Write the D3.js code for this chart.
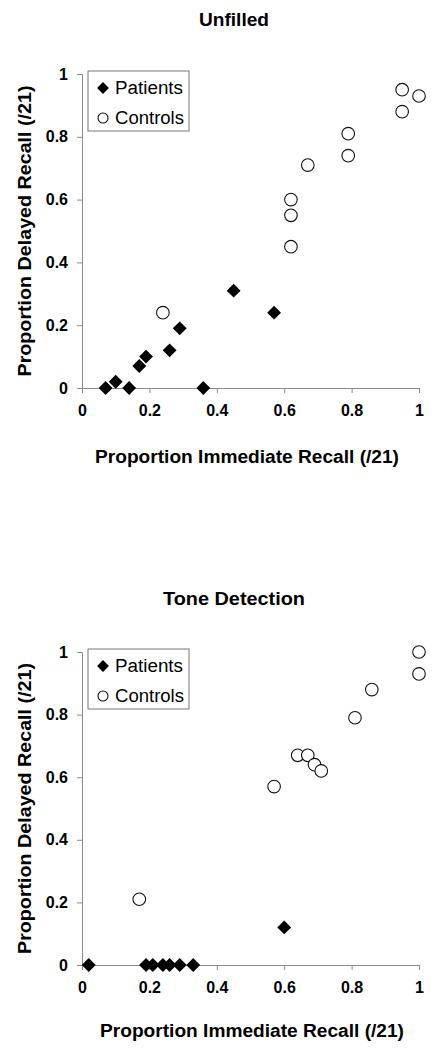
<!DOCTYPE html>
<html><head><meta charset="utf-8">
<script src="https://cdn.jsdelivr.net/npm/d3@7"></script>
<style>body{margin:0;background:#fff}svg{display:block}text{font-family:"Liberation Sans",Arial,sans-serif}</style>
</head><body>
<svg id="c" width="439" height="1050"></svg>
<script>
const ticks = [0, 0.2, 0.4, 0.6, 0.8, 1];
const tickLabels = ["0", "0.2", "0.4", "0.6", "0.8", "1"];
const seriesNames = ["Patients", "Controls"];

const unfilledPatientsX = [0.07, 0.10, 0.14, 0.17, 0.19, 0.26, 0.29, 0.36, 0.45, 0.57];
const unfilledPatientsY = [0, 0.02, 0, 0.07, 0.10, 0.12, 0.19, 0, 0.31, 0.24];
const unfilledControlsX = [0.24, 0.62, 0.62, 0.62, 0.67, 0.79, 0.79, 0.95, 0.95, 1.0];
const unfilledControlsY = [0.24, 0.60, 0.55, 0.45, 0.71, 0.81, 0.74, 0.95, 0.88, 0.93];

const tonePatientsX = [0.02, 0.19, 0.21, 0.24, 0.26, 0.29, 0.33, 0.60];
const tonePatientsY = [0, 0, 0, 0, 0, 0, 0, 0.12];
const toneControlsX = [0.17, 0.57, 0.64, 0.67, 0.69, 0.71, 0.81, 0.86, 1.0, 1.0];
const toneControlsY = [0.21, 0.57, 0.67, 0.67, 0.64, 0.62, 0.79, 0.88, 1.0, 0.93];

const svg = d3.select("#c");
const axisColor = "#8a8a8a";

function zip(xs, ys) { return xs.map((x, i) => ({x, y: ys[i]})); }

function panel(cfg) {
  const x = d3.scaleLinear().domain([0, 1]).range([82, 419]);
  const y = d3.scaleLinear().domain([0, 1]).range([cfg.y0, cfg.y1]);
  const g = svg.append("g");

  // title
  g.append("text").attr("x", 234).attr("y", cfg.titleY)
    .attr("text-anchor", "middle").attr("font-weight", "bold").attr("font-size", 18)
    .attr("textLength", cfg.titleLen).attr("lengthAdjust", "spacingAndGlyphs")
    .text(cfg.title);

  // axes
  const xa = g.append("g").attr("transform", `translate(0,${cfg.y0})`)
    .call(d3.axisBottom(x).tickValues(ticks).tickFormat((d, i) => tickLabels[i]).tickSize(5).tickPadding(12));
  const ya = g.append("g").attr("transform", `translate(82,0)`)
    .call(d3.axisLeft(y).tickValues(ticks).tickFormat((d, i) => tickLabels[i]).tickSize(5).tickPadding(9));
  [xa, ya].forEach(a => {
    a.select(".domain").attr("stroke", axisColor);
    a.selectAll(".tick line").attr("stroke", axisColor);
    a.selectAll(".tick text").attr("fill", "#000").attr("font-weight", "bold")
      .attr("font-size", 16).attr("font-family", '"Liberation Sans",Arial,sans-serif');
  });

  // axis titles
  g.append("text").attr("x", cfg.xLabelX).attr("y", cfg.xLabelY)
    .attr("text-anchor", "middle").attr("font-weight", "bold").attr("font-size", 18)
    .attr("textLength", 304).attr("lengthAdjust", "spacingAndGlyphs")
    .text("Proportion Immediate Recall (/21)");
  g.append("text").attr("transform", `translate(31,${(cfg.y0 + cfg.y1) / 2}) rotate(-90)`)
    .attr("text-anchor", "middle").attr("font-weight", "bold").attr("font-size", 18)
    .attr("textLength", 291).attr("lengthAdjust", "spacingAndGlyphs")
    .text("Proportion Delayed Recall (/21)");

  const diamond = d3.symbol().type(d3.symbolSquare).size(96);
  // controls
  g.selectAll("circle.ctrl").data(zip(cfg.cx, cfg.cy)).join("circle")
    .attr("class", "ctrl")
    .attr("cx", d => x(d.x)).attr("cy", d => y(d.y)).attr("r", 6.3)
    .attr("fill", "#fff").attr("stroke", "#111").attr("stroke-width", 1.1);
  // patients
  g.selectAll("path.pat").data(zip(cfg.px, cfg.py)).join("path")
    .attr("class", "pat")
    .attr("d", diamond)
    .attr("transform", d => `translate(${x(d.x)},${y(d.y)}) rotate(45)`)
    .attr("fill", "#000");

  // legend
  const lg = g.append("g").attr("transform", `translate(88,${cfg.legendY})`);
  lg.append("rect").attr("x", 0).attr("y", 0).attr("width", 101).attr("height", 60)
    .attr("fill", "#fff").attr("stroke", "#777").attr("stroke-width", 1);
  lg.append("path").attr("d", d3.symbol().type(d3.symbolSquare).size(70))
    .attr("transform", "translate(15,17) rotate(45)").attr("fill", "#000");
  lg.append("circle").attr("cx", 15).attr("cy", 47).attr("r", 5)
    .attr("fill", "#fff").attr("stroke", "#111").attr("stroke-width", 1.1);
  lg.append("text").attr("x", 27).attr("y", 23).attr("font-size", 18)
    .attr("textLength", 68).attr("lengthAdjust", "spacingAndGlyphs").text(seriesNames[0]);
  lg.append("text").attr("x", 27).attr("y", 53).attr("font-size", 18)
    .attr("textLength", 69).attr("lengthAdjust", "spacingAndGlyphs").text(seriesNames[1]);
}

panel({title: "Unfilled", titleY: 26, titleLen: 70, y0: 388, y1: 74,
  xLabelX: 247, xLabelY: 463, legendY: 71,
  px: unfilledPatientsX, py: unfilledPatientsY, cx: unfilledControlsX, cy: unfilledControlsY});
panel({title: "Tone Detection", titleY: 605, titleLen: 142, y0: 965, y1: 652,
  xLabelX: 252, xLabelY: 1037, legendY: 649,
  px: tonePatientsX, py: tonePatientsY, cx: toneControlsX, cy: toneControlsY});
</script>
</body></html>
